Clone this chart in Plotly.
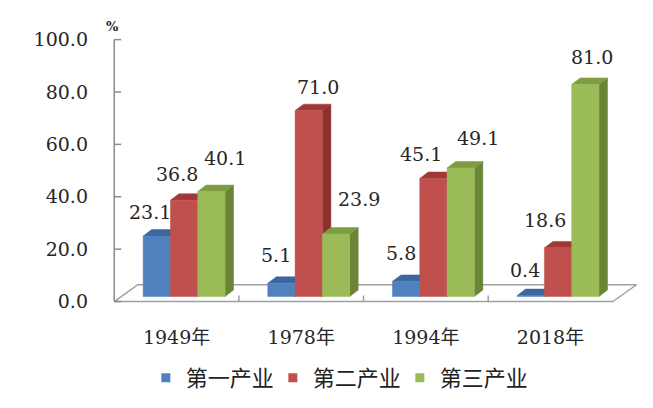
import plotly.graph_objects as go

# 三次产业构成 (%)
categories = ["1949年", "1978年", "1994年", "2018年"]
series_names = ["第一产业", "第二产业", "第三产业"]
primary = [23.1, 5.1, 5.8, 0.4]
secondary = [36.8, 71.0, 45.1, 18.6]
tertiary = [40.1, 23.9, 49.1, 81.0]
y_ticks = [0, 20, 40, 60, 80, 100]

# colours: front, top, side
colors = [
    ("#4F81BD", "#3C669E", "#37598A"),
    ("#C0504D", "#A03936", "#8A302E"),
    ("#9BBB59", "#7E9D40", "#6B8536"),
]

# pseudo 3d geometry (category units / value units)
W, H = 653, 408
BODY = 8               # page body margin of the html page
PX_X = 124.75          # px per category
PX_Y = 2.65            # px per percent
X0, X1 = -0.55, 3.75
Y0, Y1 = -4, 101
BAR_W = 0.219
GROUP_OFF = -0.268
BASE = 1.9
DX = 8.5 / PX_X
DY = 6.5 / PX_Y
FLOOR_DX = 0.19
FLOOR_DY = 6.4

# label nudges in px (dx, dy) relative to bar top centre
label_nudge = [
    [(-7, 24), (-5, 28), (-5, 28), (-6, 26)],
    [(-7, 26), (9, 24), (-12, 24), (-13, 28)],
    [(14, 34), (23, 35), (17, 30), (7, 27)],
]

font_num = "DejaVu Serif, Liberation Serif, serif"
font_cjk = "Noto Sans CJK SC, sans-serif"

ml = 114 - (-0.5 - X0) * PX_X
mt = 40 - (Y1 - 100) * PX_Y
mr = W - ml - (X1 - X0) * PX_X
mb = H - mt - (Y1 - Y0) * PX_Y

fig = go.Figure()

# floor
n = len(categories)
fx = [-0.5, n - 0.5, n - 0.5 + FLOOR_DX, -0.5 + FLOOR_DX, -0.5]
fy = [0, 0, FLOOR_DY, FLOOR_DY, 0]
fig.add_trace(go.Scatter(x=fx, y=fy, mode="lines", fill="toself", fillcolor="white",
                         line=dict(color="#A0A0A0", width=1.5), hoverinfo="skip", showlegend=False))
tx, ty = [], []
for i in range(1, n):
    tx += [i - 0.5, i - 0.5, None]
    ty += [0, 2.3, None]
fig.add_trace(go.Scatter(x=tx, y=ty, mode="lines", line=dict(color="#A0A0A0", width=1.5),
                         hoverinfo="skip", showlegend=False))

# y axis line and ticks
ax, ay = [-0.5, -0.5, None], [0, 100, None]
for v in y_ticks:
    ax += [-0.5, -0.5 + 7 / PX_X, None]
    ay += [v, v, None]
fig.add_trace(go.Scatter(x=ax, y=ay, mode="lines", line=dict(color="#8C8C8C", width=1.5),
                         hoverinfo="skip", showlegend=False))

# bars
annotations = []
for k, vals in enumerate([primary, secondary, tertiary]):
    front, top, side = colors[k]
    sx, sy, tpx, tpy, frx, fry = [], [], [], [], [], []
    for i, v in enumerate(vals):
        xl = i + GROUP_OFF + k * BAR_W
        xr = xl + BAR_W
        b = BASE
        t = BASE + v
        sx += [xr, xr, xr + DX, xr + DX, xr, None]
        sy += [b, t, t + DY, b + DY, b, None]
        tpx += [xl, xr, xr + DX, xl + DX, xl, None]
        tpy += [t, t, t + DY, t + DY, t, None]
        frx += [xl, xr, xr, xl, xl, None]
        fry += [b, b, t, t, b, None]
        ndx, ndy = label_nudge[k][i]
        annotations.append(dict(x=(xl + xr) / 2, y=t, xref="x", yref="y", text=f"{v:.1f}",
                                showarrow=False, xshift=ndx, yshift=ndy,
                                font=dict(family=font_num, size=19, color="#262626")))
    for px, py, c in [(sx, sy, side), (tpx, tpy, top), (frx, fry, front)]:
        fig.add_trace(go.Scatter(x=px, y=py, mode="lines", fill="toself", fillcolor=c,
                                 line=dict(color=c, width=0.5), hoverinfo="skip", showlegend=False))

# legend entries
for k, name in enumerate(series_names):
    fig.add_trace(go.Scatter(x=[None], y=[None], mode="markers", name=name,
                             marker=dict(symbol="square", size=9, color=colors[k][0])))

annotations.append(dict(x=-0.5, y=100, xref="x", yref="y", text="<b>%</b>", showarrow=False,
                        xshift=-2, yshift=13, font=dict(family=font_num, size=13, color="#262626")))

fig.update_layout(
    width=W - BODY, height=H - BODY,
    margin=dict(l=ml - BODY, r=mr, t=mt - BODY, b=mb, pad=0),
    paper_bgcolor="white", plot_bgcolor="white",
    showlegend=True,
    legend=dict(orientation="h", x=0.426, xanchor="center", y=-0.24, yanchor="middle",
                entrywidth=82, entrywidthmode="pixels",
                font=dict(family=font_cjk, size=22, color="#222222"), itemclick=False),
    xaxis=dict(range=[X0, X1], showgrid=False, zeroline=False, showline=False,
               tickmode="array", tickvals=list(range(n)), ticktext=categories, ticks="",
               ticklabelstandoff=12,
               tickfont=dict(family=font_num + ", Noto Sans CJK SC", size=19, color="#262626")),
    yaxis=dict(range=[Y0, Y1], showgrid=False, zeroline=False, showline=False,
               tickmode="array", tickvals=y_ticks, ticktext=[f"{v:.1f}" for v in y_ticks],
               ticks="", ticklabelstandoff=19,
               tickfont=dict(family=font_num, size=19, color="#262626")),
    annotations=annotations,
)

fig.write_html("out.html")
